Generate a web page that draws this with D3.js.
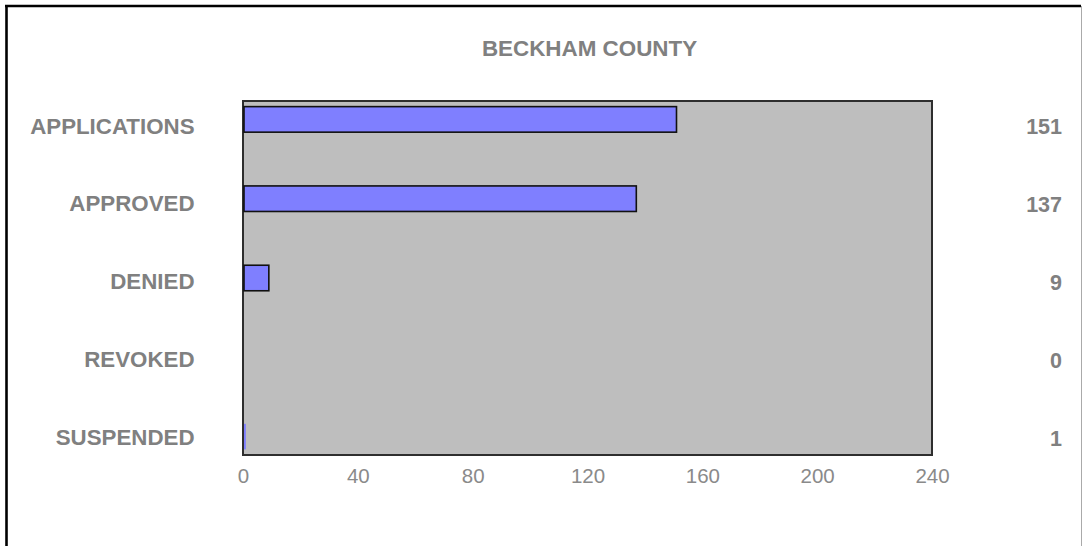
<!DOCTYPE html>
<html>
<head>
<meta charset="utf-8">
<script src="https://cdn.jsdelivr.net/npm/d3@7"></script>
<style>
  html, body { margin: 0; padding: 0; background: #fff; }
  svg { display: block; }
  text { font-family: "Liberation Sans", Arial, sans-serif; }
</style>
</head>
<body>
<svg id="chart" width="1082" height="546"></svg>
<script>
const title = "BECKHAM COUNTY";
const categories = ["APPLICATIONS", "APPROVED", "DENIED", "REVOKED", "SUSPENDED"];
const values = [151, 137, 9, 0, 1];
const tickValues = [0, 40, 80, 120, 160, 200, 240];

const W = 1082, H = 546;
const plot = { left: 243, right: 932, top: 101, bottom: 455 };
const svg = d3.select("#chart");

// outer frame (top and left heavy, right thin grey; bottom cut off)
svg.append("line").attr("x1", 5).attr("x2", 1081).attr("y1", 6).attr("y2", 6)
  .attr("stroke", "#000").attr("stroke-width", 2.6);
svg.append("line").attr("x1", 6.5).attr("x2", 6.5).attr("y1", 5).attr("y2", H)
  .attr("stroke", "#000").attr("stroke-width", 2.6);
svg.append("line").attr("x1", 1081.5).attr("x2", 1081.5).attr("y1", 6).attr("y2", H)
  .attr("stroke", "#aaa").attr("stroke-width", 1);

const x = d3.scaleLinear().domain([0, 240]).range([plot.left, plot.right]);
const y = d3.scaleBand().domain(categories).range([plot.top, plot.bottom])
  .paddingInner(0.678).paddingOuter(0.071);
const labelY = d3.scalePoint().domain(categories).range([125.5, 437]);

// plot background
svg.append("rect")
  .attr("x", plot.left).attr("y", plot.top)
  .attr("width", plot.right - plot.left).attr("height", plot.bottom - plot.top)
  .attr("fill", "#bebebe").attr("stroke", "#2e2e2e").attr("stroke-width", 2);

// bars
const data = categories.map((c, i) => ({ cat: c, value: values[i] }));
svg.append("g").selectAll("rect").data(data).join("rect")
  .attr("x", x(0) + 1)
  .attr("y", d => y(d.cat))
  .attr("width", d => Math.max(0, x(d.value) - x(0) - 1))
  .attr("height", y.bandwidth())
  .attr("fill", "#7f7fff")
  .attr("stroke", "#111")
  .attr("stroke-width", d => (x(d.value) - x(0)) > 6 ? 1.6 : 0);

// title
svg.append("text")
  .attr("x", (plot.left + plot.right) / 2 + 2).attr("y", 56)
  .attr("text-anchor", "middle")
  .attr("font-size", 22.4).attr("font-weight", "bold").attr("fill", "#808080")
  .text(title);

// category labels
svg.append("g").selectAll("text").data(data).join("text")
  .attr("x", 194.5)
  .attr("y", d => labelY(d.cat) + 8)
  .attr("text-anchor", "end")
  .attr("font-size", 22.3).attr("font-weight", "bold").attr("fill", "#808080")
  .text(d => d.cat);

// value labels
svg.append("g").selectAll("text").data(data).join("text")
  .attr("x", 1062)
  .attr("y", d => labelY(d.cat) + 8.5)
  .attr("text-anchor", "end")
  .attr("font-size", 21.5).attr("font-weight", "bold").attr("fill", "#808080")
  .text(d => d.value);

// x axis
const axis = d3.axisBottom(x).tickValues(tickValues).tickSize(0).tickPadding(0);
const gx = svg.append("g").attr("transform", `translate(0,${plot.bottom})`).call(axis);
gx.select(".domain").remove();
gx.selectAll("text")
  .attr("y", 28).attr("dy", 0)
  .attr("font-family", "\"Liberation Sans\", Arial, sans-serif")
  .attr("font-size", 20.5).attr("fill", "#8a8a8a");
</script>
</body>
</html>
